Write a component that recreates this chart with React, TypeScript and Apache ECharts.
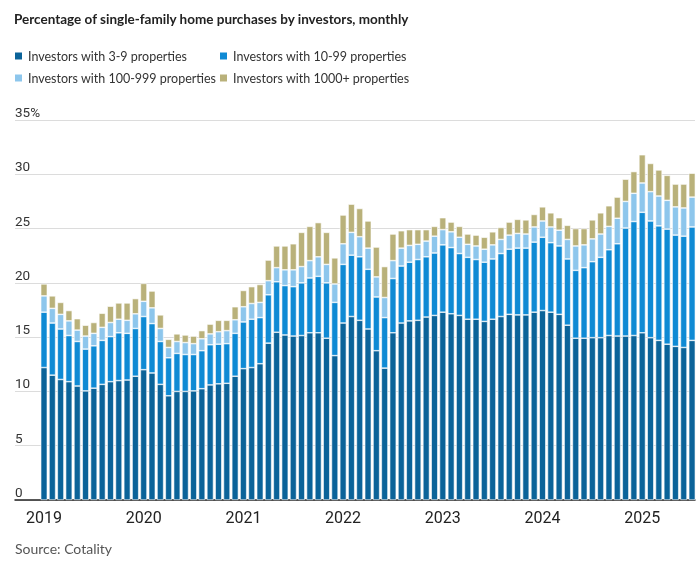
import React, { useEffect, useRef } from "react";
import * as echarts from "echarts";

const yearLabels = ["2019", "2020", "2021", "2022", "2023", "2024", "2025"];
const monthCodes = ["01", "02", "03", "04", "05", "06", "07", "08", "09", "10", "11", "12"];
const seriesNames = [
  "Investors with 3-9 properties",
  "Investors with 10-99 properties",
  "Investors with 100-999 properties",
  "Investors with 1000+ properties",
];

// Monthly, Jan 2019 – Jul 2025 (percentage points)
const inv3to9 = [
  12.2, 11.5, 11.1, 10.9, 10.5, 10.05, 10.3, 10.65, 10.9, 11.0, 11.05, 11.4,
  12.0, 11.7, 10.65, 9.6, 10.0, 10.0, 10.05, 10.25, 10.6, 10.7, 10.75, 11.4,
  12.1, 12.2, 12.55, 14.45, 15.45, 15.2, 15.1, 15.15, 15.4, 15.4, 14.9, 13.3,
  16.3, 16.9, 16.55, 15.75, 13.75, 12.15, 15.4, 16.3, 16.5, 16.55, 16.85, 17.0,
  17.3, 17.15, 17.0, 16.65, 16.65, 16.45, 16.65, 16.9, 17.1, 17.05, 17.05, 17.3,
  17.45, 17.3, 17.1, 16.1, 14.9, 14.9, 14.95, 14.95, 15.15, 15.1, 15.1, 15.15,
  15.4, 14.95, 14.7, 14.35, 14.15, 14.05, 14.7,
];
const inv10to99 = [
  5.1, 4.8, 4.65, 4.25, 4.1, 3.85, 3.9, 4.05, 4.15, 4.4, 4.3, 4.4,
  4.9, 4.55, 3.95, 3.5, 3.5, 3.4, 3.35, 3.5, 3.7, 3.65, 3.65, 3.95,
  4.3, 4.45, 4.25, 4.45, 4.65, 4.55, 4.55, 4.85, 5.05, 5.2, 5.1, 4.9,
  5.4, 5.65, 5.85, 5.5, 4.95, 4.65, 5.0, 5.25, 5.4, 5.6, 5.55, 5.75,
  6.2, 6.1, 5.7, 5.7, 5.5, 5.45, 5.55, 5.8, 6.0, 6.15, 6.15, 6.45,
  6.75, 6.4, 6.3, 6.1, 6.25, 6.5, 7.0, 7.4, 7.9, 8.5, 9.95, 10.5,
  11.1, 10.75, 10.55, 10.6, 10.25, 10.25, 10.45,
];
const inv100to999 = [
  1.5, 1.35, 1.35, 1.35, 1.05, 1.2, 1.15, 1.2, 1.3, 1.25, 1.2, 1.35,
  1.4, 1.45, 1.2, 0.95, 1.1, 1.1, 1.0, 1.1, 1.0, 1.15, 1.2, 1.25,
  1.4, 1.45, 1.4, 1.3, 1.3, 1.45, 1.55, 1.5, 1.6, 1.8, 1.7, 1.7,
  1.9, 2.1, 1.85, 1.95, 1.85, 1.85, 1.65, 1.65, 1.55, 1.4, 1.45, 1.55,
  1.4, 1.45, 1.5, 1.2, 1.25, 1.2, 1.3, 1.3, 1.3, 1.35, 1.3, 1.4,
  1.5, 1.45, 1.45, 1.8, 2.25, 2.1, 2.1, 2.15, 2.15, 2.35, 2.45, 2.6,
  2.7, 2.7, 2.75, 2.65, 2.6, 2.6, 2.75,
];
const inv1000plus = [
  1.1, 1.15, 1.1, 0.95, 1.05, 1.0, 1.0, 1.3, 1.5, 1.5, 1.6, 1.4,
  1.65, 1.55, 1.25, 0.75, 0.7, 0.7, 0.7, 0.75, 0.9, 1.05, 0.95, 1.2,
  1.5, 1.55, 1.65, 1.9, 2.0, 2.2, 2.4, 3.15, 3.15, 3.15, 2.95, 2.4,
  2.65, 2.6, 2.6, 2.5, 2.75, 2.85, 2.45, 1.6, 1.45, 1.35, 1.05, 0.9,
  1.1, 0.9, 1.0, 0.95, 1.0, 1.1, 1.2, 1.1, 1.2, 1.3, 1.3, 1.15,
  1.3, 1.3, 1.15, 1.3, 1.6, 1.5, 1.75, 1.95, 1.9, 1.95, 2.05, 2.0,
  2.6, 2.6, 2.4, 2.3, 2.1, 2.2, 2.2,
];

const months = yearLabels
  .flatMap((y) => monthCodes.map((m) => `${y}-${m}`))
  .slice(0, inv3to9.length);

const colors = ["#0b6399", "#0f8ad4", "#8dc6ec", "#b9b17a"];
const TXT = "Lato, Roboto, 'Noto Sans', sans-serif";
const NUM = "Roboto, 'Noto Sans', sans-serif";

export default function App() {
  const ref = useRef<HTMLDivElement>(null);
  useEffect(() => {
    const chart = echarts.init(ref.current!, null, { renderer: "svg" });
    const allSeries = [inv3to9, inv10to99, inv100to999, inv1000plus];
    const legendPos = [
      { left: 13, top: 48 },
      { left: 218, top: 48 },
      { left: 13, top: 70 },
      { left: 218, top: 70 },
    ];
    chart.setOption({
      animation: false,
      title: {
        text: "Percentage of single-family home purchases by investors, monthly",
        left: 14,
        top: 12,
        padding: 0,
        textStyle: { fontFamily: TXT, fontSize: 13.5, fontWeight: "bold", color: "#222" },
      },
      legend: seriesNames.map((n, i) => ({
        data: [{ name: n, icon: "rect" }],
        ...legendPos[i],
        padding: 0,
        itemWidth: 9,
        itemHeight: 9,
        selectedMode: false,
        textStyle: { fontFamily: TXT, fontSize: 12.5, color: "#333", lineHeight: 16 },
      })),
      grid: [
        { left: 39.85, right: 3.8, top: 120, bottom: 62, containLabel: false },
        { left: 15, right: 5, top: 120, bottom: 62, containLabel: false },
      ],
      xAxis: [
        {
          type: "category",
          gridIndex: 0,
          data: months,
          boundaryGap: true,
          axisLine: { show: false },
          axisTick: { show: false },
          splitLine: { show: false },
          axisLabel: {
            interval: (idx: number) => idx % 12 === 0,
            formatter: (v: string) => v.slice(0, 4),
            fontFamily: NUM,
            fontSize: 16,
            color: "#222",
            margin: 9,
          },
        },
        {
          type: "value",
          gridIndex: 1,
          min: 0,
          max: 1,
          axisLine: { show: true, lineStyle: { color: "#222", width: 1.5 } },
          axisTick: { show: false },
          axisLabel: { show: false },
          splitLine: { show: false },
        },
      ],
      yAxis: [
        {
          type: "value",
          gridIndex: 0,
          min: 0,
          max: 35,
          interval: 5,
          axisLine: { show: false },
          axisTick: { show: false },
          axisLabel: { show: false },
          splitLine: { show: false },
        },
        {
          type: "value",
          gridIndex: 1,
          min: 0,
          max: 35,
          interval: 5,
          axisLine: { show: false },
          axisTick: { show: false },
          splitLine: { lineStyle: { color: "#dcdcdc", width: 1 } },
          axisLabel: {
            inside: true,
            margin: 0,
            verticalAlign: "bottom",
            padding: [0, 0, 1, 0],
            showMaxLabel: true,
            fontFamily: NUM,
            fontSize: 13.5,
            color: "#333",
            formatter: (v: number) => (v === 35 ? "35%" : String(v)),
          },
        },
      ],
      series: allSeries.map((arr, si) => ({
        name: seriesNames[si],
        type: "bar",
        stack: "total",
        xAxisIndex: 0,
        yAxisIndex: 0,
        barWidth: 6.6,
        itemStyle: { color: colors[si], borderColor: "#fff", borderWidth: 0.6 },
        data: arr,
      })),
      graphic: [
        {
          type: "text",
          left: 15,
          top: 541,
          style: { text: "Source: Cotality", fontFamily: TXT, fontSize: 14, fill: "#555" },
        },
      ],
    });
    return () => chart.dispose();
  }, []);
  return <div ref={ref} style={{ position: "fixed", left: 0, top: 0, width: 700, height: 562 }} />;
}
